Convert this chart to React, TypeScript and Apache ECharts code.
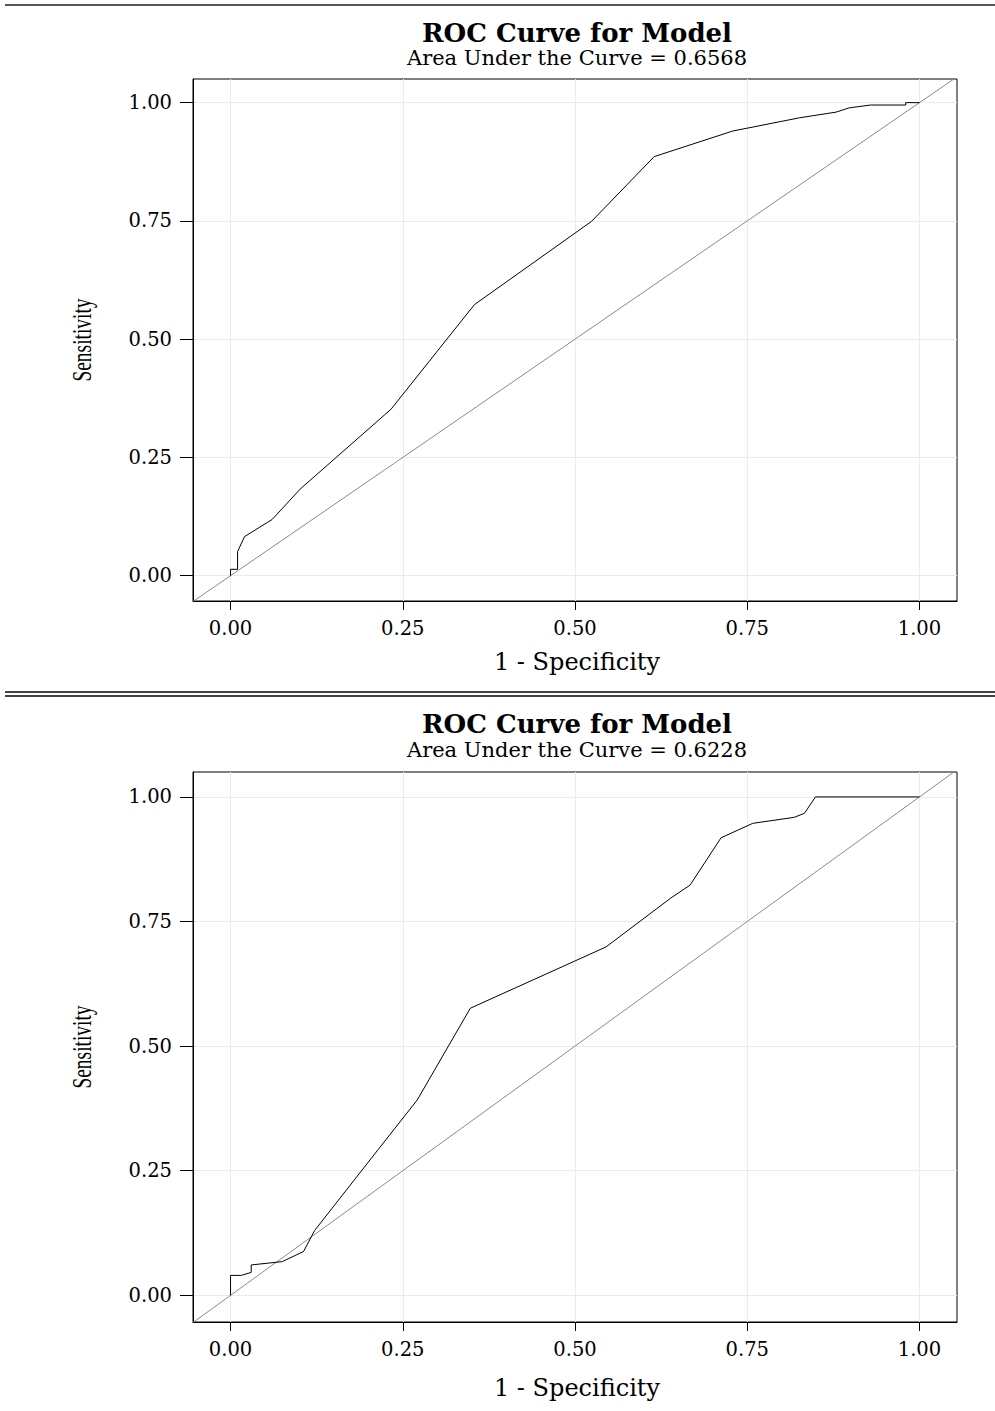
import React, { useEffect, useRef } from "react";
import * as echarts from "echarts";

// Top model ROC curve (1 - specificity, sensitivity)
const TOP_FPR = [0, 0, 0.0102, 0.0102, 0.0203, 0.0605, 0.101, 0.233, 0.354, 0.524, 0.615, 0.729, 0.826, 0.879, 0.898, 0.929, 0.98, 0.98, 1.0];
const TOP_TPR = [0, 0.0135, 0.0135, 0.0508, 0.0826, 0.119, 0.183, 0.352, 0.573, 0.749, 0.886, 0.94, 0.968, 0.98, 0.989, 0.995, 0.995, 1.0, 1.0];
const TOP_AUC = "0.6568";

// Bottom model ROC curve
const BOT_FPR = [0, 0, 0.0155, 0.03, 0.03, 0.075, 0.106, 0.122, 0.214, 0.271, 0.348, 0.545, 0.639, 0.667, 0.712, 0.758, 0.818, 0.833, 0.849, 1.0];
const BOT_TPR = [0, 0.04, 0.04, 0.046, 0.061, 0.0676, 0.088, 0.13, 0.292, 0.392, 0.576, 0.699, 0.797, 0.823, 0.918, 0.947, 0.959, 0.967, 1.0, 1.0];
const BOT_AUC = "0.6228";

const TICKS = [0, 0.25, 0.5, 0.75, 1.0];
const DIAG = [-0.1, 1.1];

const TITLE = "ROC Curve for Model";
const X_NAME = "1 - Specificity";
const Y_NAME = "Sensitivity";

const X_MIN = -0.0545;
const X_MAX = 1.0545;
const Y_MIN = -0.0535;
const Y_MAX = 1.05;

const SERIF = "DejaVu Serif";

function pairs(xs: number[], ys: number[]) {
  return xs.map((x, i) => [x, ys[i]]);
}

export default function App() {
  const ref = useRef<HTMLDivElement>(null);
  useEffect(() => {
    if (!ref.current) return;
    const chart = echarts.init(ref.current, null, { renderer: "svg" });

    const mkX = (gi: number) => ({
      type: "value",
      gridIndex: gi,
      min: X_MIN,
      max: X_MAX,
      axisLine: { show: true, onZero: false, lineStyle: { color: "#000", width: 1 } },
      axisTick: { show: true, length: 9, customValues: TICKS, lineStyle: { color: "#000" } },
      axisLabel: {
        customValues: TICKS,
        formatter: (v: number) => v.toFixed(2),
        fontFamily: SERIF,
        fontSize: 19.5,
        color: "#000",
        margin: 17,
      },
      splitLine: { show: true, lineStyle: { color: "#ebebeb", width: 1 } },
    });
    const mkY = (gi: number) => ({
      type: "value",
      gridIndex: gi,
      min: Y_MIN,
      max: Y_MAX,
      axisLine: { show: true, onZero: false, lineStyle: { color: "#000", width: 1 } },
      axisTick: { show: true, length: 13, customValues: TICKS, lineStyle: { color: "#000" } },
      axisLabel: {
        customValues: TICKS,
        formatter: (v: number) => v.toFixed(2),
        fontFamily: SERIF,
        fontSize: 19.5,
        color: "#000",
        margin: 21,
      },
      splitLine: { show: true, lineStyle: { color: "#ebebeb", width: 1 } },
    });

    const texts = (yTitle: number, ySub: number, yX: number, yY: number, auc: string) => [
      {
        type: "text",
        x: 577,
        y: yTitle,
        style: { text: TITLE, font: `bold 26px "${SERIF}"`, fill: "#000", align: "center", verticalAlign: "middle" },
      },
      {
        type: "text",
        x: 577,
        y: ySub,
        style: { text: `Area Under the Curve = ${auc}`, font: `21px "${SERIF}"`, fill: "#000", align: "center", verticalAlign: "middle" },
      },
      {
        type: "text",
        x: 577,
        y: yX,
        style: { text: X_NAME, font: `24px "${SERIF}"`, fill: "#000", align: "center", verticalAlign: "middle" },
      },
      {
        type: "text",
        x: 82,
        y: yY,
        rotation: Math.PI / 2,
        scaleX: 0.72,
        style: { text: Y_NAME, font: `27px "Liberation Serif"`, fill: "#000", align: "center", verticalAlign: "middle" },
      },
    ];

    const lineSeries = (gi: number, data: number[][]) => ({
      type: "line",
      xAxisIndex: gi,
      yAxisIndex: gi,
      data,
      symbol: "none",
      lineStyle: { color: "#000", width: 1 },
      z: 3,
    });
    const diagSeries = (gi: number) => ({
      type: "line",
      xAxisIndex: gi,
      yAxisIndex: gi,
      data: DIAG.map((v) => [v, v]),
      symbol: "none",
      clip: true,
      lineStyle: { color: "#8a8a8a", width: 1 },
      z: 2,
    });

    chart.setOption({
      animation: false,
      backgroundColor: "#fff",
      grid: [
        { left: 193, top: 79, width: 764, height: 522, show: true, borderColor: "#000", borderWidth: 1, backgroundColor: "transparent" },
        { left: 193, top: 772, width: 764, height: 550, show: true, borderColor: "#000", borderWidth: 1, backgroundColor: "transparent" },
      ],
      xAxis: [mkX(0), mkX(1)],
      yAxis: [mkY(0), mkY(1)],
      series: [
        diagSeries(0),
        lineSeries(0, pairs(TOP_FPR, TOP_TPR)),
        diagSeries(1),
        lineSeries(1, pairs(BOT_FPR, BOT_TPR)),
      ],
      graphic: [
        { type: "line", shape: { x1: 5, y1: 5, x2: 995, y2: 5 }, style: { stroke: "#555", lineWidth: 2 } },
        { type: "line", shape: { x1: 5, y1: 692, x2: 995, y2: 692 }, style: { stroke: "#444", lineWidth: 2 } },
        { type: "line", shape: { x1: 5, y1: 696, x2: 995, y2: 696 }, style: { stroke: "#444", lineWidth: 2 } },
        ...texts(33, 58, 662, 340, TOP_AUC),
        ...texts(724, 750, 1388, 1047, BOT_AUC),
      ],
    });
    return () => chart.dispose();
  }, []);
  return (
    <div
      ref={ref}
      style={{ position: "absolute", left: 0, top: 0, width: 995, height: 1411, background: "#fff" }}
    />
  );
}
